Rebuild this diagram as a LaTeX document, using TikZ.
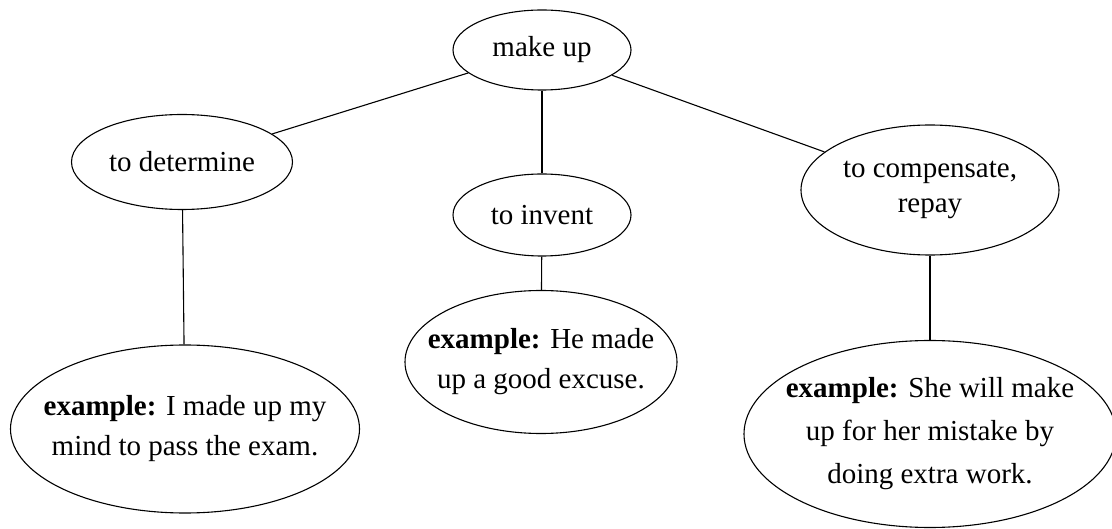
\documentclass[tikz,border=0pt]{standalone}
\usepackage{fontspec}
\setmainfont{Liberation Serif}
\usetikzlibrary{shapes.geometric}
\begin{document}
\begin{tikzpicture}[x=1pt,y=-1pt,
  ell/.style={draw, ellipse, inner sep=0pt, line width=1.1pt},
  lbl/.style={inner sep=0pt, align=center, font=\fontsize{29}{38}\selectfont},
  conn/.style={line width=1.1pt}]
\useasboundingbox (0,0) rectangle (1112,529);
% ellipses
\node[ell, minimum width=178pt, minimum height=80pt] (root) at (542,50) {};
\node[ell, minimum width=221pt, minimum height=95pt] (det) at (182,162) {};
\node[ell, minimum width=178pt, minimum height=82pt] (inv) at (542,215) {};
\node[ell, minimum width=258pt, minimum height=130pt] (comp) at (930,190) {};
\node[ell, minimum width=349pt, minimum height=168pt] (ex1) at (185,429) {};
\node[ell, minimum width=272pt, minimum height=143pt] (ex2) at (541,362) {};
\node[ell, minimum width=372pt, minimum height=187pt] (ex3) at (930,434) {};
% texts
\node[lbl] (troot) at (root) {make up};
\node[lbl] (tdet) at (det) {to determine};
\node[lbl] (tinv) at (inv) {to invent};
\node[lbl, font=\fontsize{29}{35}\selectfont] (tcomp) at (comp) {to compensate,\\repay};
\node[lbl, font=\fontsize{29}{40}\selectfont] (tex1) at (ex1) {\textbf{example:} I made up my\\mind to pass the exam.};
\node[lbl, font=\fontsize{29}{40}\selectfont] (tex2) at (ex2) {\textbf{example:} He made\\up a good excuse.};
\node[lbl, font=\fontsize{29}{43}\selectfont] (tex3) at (ex3) {\textbf{example:} She will make\\up for her mistake by\\doing extra work.};
% connectors
\draw[conn] (root) -- (det);
\draw[conn] (root) -- (inv);
\draw[conn] (root) -- (comp);
\draw[conn] (det) -- (ex1);
\draw[conn] (inv) -- (ex2);
\draw[conn] (comp) -- (ex3);
\end{tikzpicture}
\end{document}
